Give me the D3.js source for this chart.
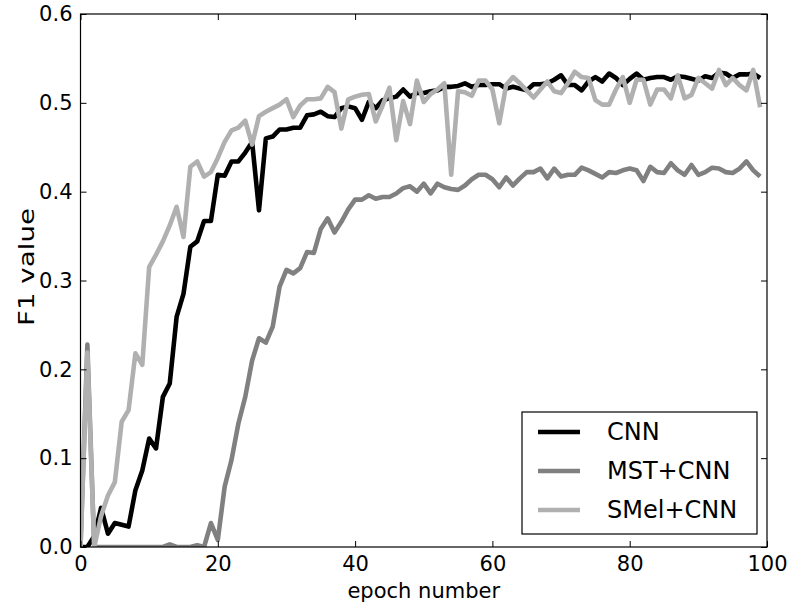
<!DOCTYPE html>
<html>
<head>
<meta charset="utf-8">
<script src="https://cdn.jsdelivr.net/npm/d3@7"></script>
<style>
  body { margin: 0; background: #fff; }
  #chart { width: 790px; height: 607px; }
  text { font-family: "DejaVu Sans", sans-serif; }
</style>
</head>
<body>
<div id="chart"></div>
<script>
// F1 per epoch (index = epoch number)
const cnnF1 = [
  0, 0, 0.012, 0.044, 0.015, 0.027, 0.025, 0.023, 0.064, 0.086,
  0.122, 0.111, 0.169, 0.184, 0.259, 0.285, 0.338, 0.344, 0.367, 0.367,
  0.419, 0.418, 0.434, 0.434, 0.444, 0.456, 0.379, 0.460, 0.462, 0.470,
  0.470, 0.472, 0.472, 0.486, 0.487, 0.490, 0.485, 0.484, 0.494, 0.496,
  0.494, 0.481, 0.501, 0.494, 0.503, 0.505, 0.507, 0.515, 0.507, 0.511,
  0.511, 0.513, 0.514, 0.518, 0.518, 0.519, 0.522, 0.518, 0.520, 0.520,
  0.521, 0.521, 0.516, 0.518, 0.516, 0.514, 0.521, 0.521, 0.522, 0.526,
  0.531, 0.520, 0.520, 0.514, 0.524, 0.529, 0.524, 0.533, 0.528, 0.520,
  0.527, 0.533, 0.526, 0.528, 0.529, 0.529, 0.526, 0.530, 0.529, 0.527,
  0.525, 0.530, 0.528, 0.534, 0.533, 0.528, 0.532, 0.532, 0.533, 0.528
];
const mstF1 = [
  0, 0.228, 0, 0, 0, 0, 0, 0, 0, 0,
  0, 0, 0, 0.003, 0, 0, 0, 0.002, 0, 0.027,
  0.008, 0.068, 0.098, 0.139, 0.169, 0.210, 0.235, 0.230, 0.248, 0.293,
  0.312, 0.308, 0.314, 0.332, 0.331, 0.358, 0.370, 0.354, 0.366, 0.380,
  0.391, 0.391, 0.396, 0.392, 0.394, 0.394, 0.398, 0.404, 0.406, 0.400,
  0.409, 0.398, 0.409, 0.405, 0.403, 0.402, 0.407, 0.414, 0.419, 0.419,
  0.414, 0.405, 0.416, 0.407, 0.415, 0.422, 0.422, 0.426, 0.415, 0.426,
  0.417, 0.419, 0.419, 0.427, 0.424, 0.420, 0.416, 0.422, 0.421, 0.424,
  0.426, 0.424, 0.412, 0.428, 0.422, 0.421, 0.432, 0.424, 0.419, 0.430,
  0.419, 0.422, 0.427, 0.426, 0.422, 0.421, 0.426, 0.434, 0.424, 0.417
];
const smelF1 = [
  0, 0.219, 0, 0.035, 0.058, 0.073, 0.141, 0.154, 0.218, 0.205,
  0.315, 0.329, 0.344, 0.362, 0.383, 0.349, 0.428, 0.434, 0.417, 0.422,
  0.438, 0.456, 0.469, 0.472, 0.480, 0.453, 0.485, 0.490, 0.494, 0.498,
  0.504, 0.484, 0.497, 0.504, 0.504, 0.505, 0.518, 0.512, 0.471, 0.504,
  0.507, 0.509, 0.510, 0.479, 0.497, 0.517, 0.458, 0.502, 0.476, 0.525,
  0.501, 0.510, 0.515, 0.522, 0.419, 0.513, 0.512, 0.508, 0.525, 0.525,
  0.515, 0.477, 0.520, 0.529, 0.522, 0.514, 0.506, 0.515, 0.524, 0.513,
  0.511, 0.522, 0.535, 0.529, 0.528, 0.503, 0.498, 0.498, 0.515, 0.529,
  0.500, 0.526, 0.526, 0.498, 0.515, 0.515, 0.505, 0.531, 0.505, 0.509,
  0.528, 0.522, 0.516, 0.537, 0.520, 0.528, 0.520, 0.514, 0.537, 0.495
];

const seriesNames = ["CNN", "MST+CNN", "SMel+CNN"];
const seriesColors = ["#000000", "#808080", "#b0b0b0"];
const xTicks = [0, 20, 40, 60, 80, 100];
const yTicks = [0.0, 0.1, 0.2, 0.3, 0.4, 0.5, 0.6];

const W = 790, H = 607;
const margin = { top: 14, right: 23, bottom: 60, left: 80.5 };
const width = W - margin.left - margin.right;
const height = H - margin.top - margin.bottom;

const svg = d3.select("#chart").append("svg")
  .attr("width", W)
  .attr("height", H);

const g = svg.append("g")
  .attr("transform", `translate(${margin.left},${margin.top})`);

const x = d3.scaleLinear().domain([0, 100]).range([0, width]);
const y = d3.scaleLinear().domain([0, 0.6]).range([height, 0]);

g.append("defs").append("clipPath").attr("id", "plotClip")
  .append("rect").attr("width", width).attr("height", height);

// lines, drawn in order so the light series sits on top
const line = d3.line()
  .x((d, i) => x(i))
  .y(d => y(d));

const allSeries = [cnnF1, mstF1, smelF1];
g.append("g").attr("clip-path", "url(#plotClip)")
  .selectAll("path")
  .data(allSeries)
  .join("path")
  .attr("d", d => line(d))
  .attr("fill", "none")
  .attr("stroke", (d, i) => seriesColors[i])
  .attr("stroke-width", 4.6)
  .attr("stroke-linejoin", "round");

// axes: ticks inside on all four sides
const tickLen = 6;
const xAxis = g.append("g")
  .attr("transform", `translate(0,${height})`)
  .call(d3.axisBottom(x).tickValues(xTicks).tickSizeInner(-tickLen).tickSizeOuter(0).tickPadding(9)
    .tickFormat(d3.format("d")));
const yAxis = g.append("g")
  .call(d3.axisLeft(y).tickValues(yTicks).tickSizeInner(-tickLen).tickSizeOuter(0).tickPadding(8)
    .tickFormat(d3.format(".1f")));
const xTop = g.append("g")
  .call(d3.axisTop(x).tickValues(xTicks).tickSizeInner(-tickLen).tickSizeOuter(0).tickFormat(""));
const yRight = g.append("g")
  .attr("transform", `translate(${width},0)`)
  .call(d3.axisRight(y).tickValues(yTicks).tickSizeInner(-tickLen).tickSizeOuter(0).tickFormat(""));

[xAxis, yAxis, xTop, yRight].forEach(a => {
  a.select(".domain").remove();
  a.selectAll("line").attr("stroke", "#000").attr("stroke-width", 1);
  a.selectAll("text").attr("fill", "#000").style("font-size", "21px");
});

// frame
g.append("rect")
  .attr("width", width)
  .attr("height", height)
  .attr("fill", "none")
  .attr("stroke", "#000")
  .attr("stroke-width", 1.2);

// axis labels
g.append("text")
  .attr("x", width / 2)
  .attr("y", height + 51)
  .attr("text-anchor", "middle")
  .style("font-size", "21px")
  .text("epoch number");

// the y label reads long and thin in the original, so stretch it along its run
g.append("text")
  .attr("transform", `translate(${-47},${253}) rotate(-90)`)
  .attr("text-anchor", "middle")
  .attr("textLength", 118)
  .attr("lengthAdjust", "spacingAndGlyphs")
  .style("font-size", "21px")
  .text("F1 value");

// legend
const legend = g.append("g")
  .attr("transform", `translate(${522 - margin.left},${412 - margin.top})`);

legend.append("rect")
  .attr("width", 235)
  .attr("height", 122)
  .attr("fill", "#fff")
  .attr("stroke", "#000")
  .attr("stroke-width", 1.2);

const rows = legend.selectAll(".row")
  .data(seriesNames)
  .join("g")
  .attr("class", "row")
  .attr("transform", (d, i) => `translate(0,${20 + i * 39})`);

rows.append("line")
  .attr("x1", 16).attr("x2", 58)
  .attr("stroke", (d, i) => seriesColors[i])
  .attr("stroke-width", 4.6);

rows.append("text")
  .attr("x", 85)
  .attr("dy", "0.35em")
  .style("font-size", "24px")
  .text(d => d);
</script>
</body>
</html>
